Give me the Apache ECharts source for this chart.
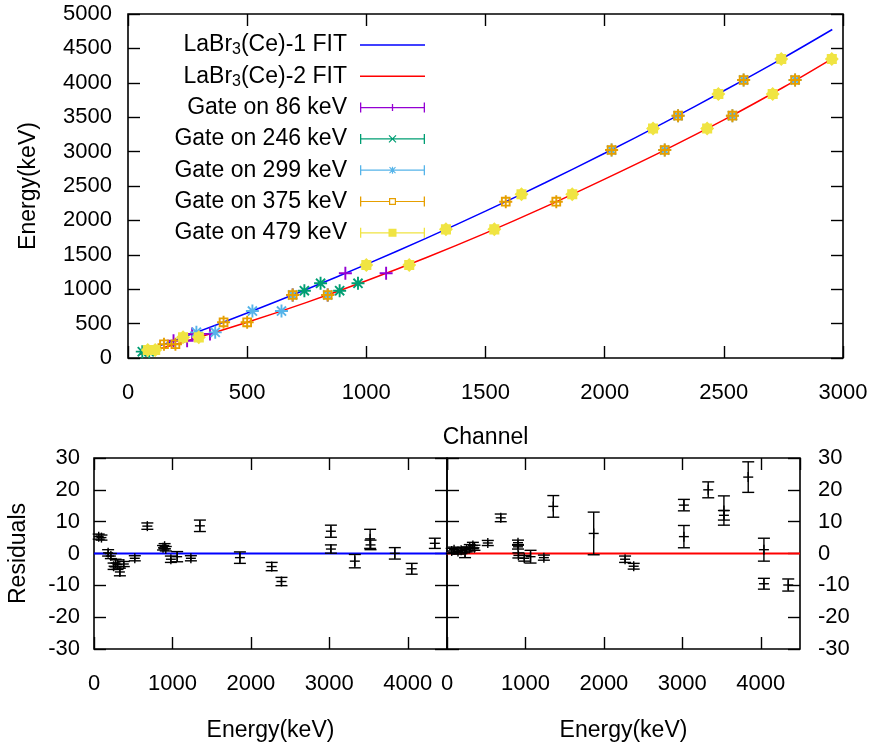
<!DOCTYPE html>
<html>
<head>
<meta charset="utf-8">
<script src="https://cdn.jsdelivr.net/npm/echarts@6/dist/echarts.min.js"></script>
<style>
  html, body { margin: 0; padding: 0; background: #fff; }
  #chart { width: 873px; height: 745px; }
</style>
</head>
<body>
<div id="chart"></div>
<script>
// Energy calibration of two LaBr3(Ce) detectors: channel -> energy, with fit residuals.

// ---- fit curves (channel, energy) ----
const fit1Ch = [50, 250, 500, 750, 1000, 1250, 1500, 1750, 2000, 2250, 2500, 2750, 2955];
const fit1E  = [75, 325, 654, 999, 1360, 1739, 2134, 2547, 2976, 3421, 3884, 4363, 4775];
const fit2Ch = [50, 250, 500, 750, 1000, 1250, 1500, 1750, 2000, 2250, 2500, 2750, 2955];
const fit2E  = [54, 252, 519, 809, 1122, 1457, 1815, 2196, 2600, 3018, 3460, 3935, 4352];

// ---- calibration points per gate (channel, energy) ----
const g86Ch  = [191, 248, 269, 344, 691, 838, 912, 1083];
const g86E   = [250, 250, 350, 350, 916, 916, 1231, 1231];
const g246Ch = [60, 89, 740, 888, 808, 965];
const g246E  = [92, 92, 978, 978, 1086, 1086];
const g299Ch = [287, 366, 522, 644, 691, 838, 2029, 2252, 2308, 2536, 2583, 2799];
const g299E  = [373, 373, 683, 683, 916, 916, 3023, 3023, 3522, 3522, 4041, 4041];
const g375Ch = [151, 199, 401, 500, 691, 838, 1585, 1797, 2029, 2252, 2308, 2536, 2583, 2799];
const g375E  = [200, 200, 519, 519, 916, 916, 2272, 2272, 3023, 3023, 3522, 3522, 4041, 4041];
const g479Ch = [83, 114, 231, 297, 1000, 1180, 1334, 1537, 1651, 1864, 2203, 2430, 2477, 2705, 2741, 2953];
const g479E  = [116, 116, 300, 300, 1352, 1352, 1870, 1870, 2379, 2379, 3335, 3335, 3837, 3837, 4346, 4346];

// ---- residuals, detector 1 (energy, residual, error) ----
const res1E   = [60, 95, 180, 215, 250, 275, 300, 330, 380, 520, 680, 880, 900, 915, 980, 1060, 1235, 1350, 1860, 2265, 2390, 3020, 3020, 3325, 3520, 3525, 3835, 4050, 4345];
const res1V   = [5.3, 5.0, 0.2, -0.8, -4.0, -3.0, -3.5, -5.8, -3.3, -1.5, 8.6, 1.8, 2.3, 1.5, -1.8, -1.0, -1.5, 8.7, -1.3, -4.1, -8.8, 7.0, 1.4, -2.4, 4.6, 2.7, 0.05, -4.8, 3.2];
const res1Err = [0.8, 0.8, 1.0, 0.8, 1.0, 1.2, 1.5, 1.2, 0.8, 0.8, 1.0, 0.7, 0.8, 0.7, 1.0, 1.6, 0.8, 1.8, 1.8, 1.3, 1.3, 1.9, 1.3, 2.1, 3.0, 1.5, 1.8, 1.7, 1.6];

// ---- residuals, detector 2 (energy, residual, error) ----
const res2E   = [60, 90, 140, 180, 230, 250, 290, 330, 350, 520, 685, 905, 905, 910, 985, 1065, 1235, 1355, 1870, 2270, 2380, 3020, 3020, 3330, 3530, 3530, 3840, 4040, 4040, 4350];
const res2V   = [0.8, 1.2, 0.6, 1.0, 0.2, 1.3, 1.8, 2.5, 1.8, 3.3, 11.2, 3.4, 2.1, -0.6, -1.5, -1.0, -1.3, 14.8, 6.3, -1.8, -4.0, 15.2, 5.3, 20.0, 13.5, 12.0, 24.0, 1.2, -9.5, -9.9];
const res2Err = [0.8, 0.8, 0.8, 0.8, 1.5, 0.8, 1.0, 1.0, 0.8, 0.8, 1.2, 0.8, 0.7, 0.8, 0.9, 2.0, 0.8, 3.4, 6.7, 1.0, 0.9, 1.8, 3.5, 2.5, 4.6, 1.5, 4.8, 3.6, 1.7, 1.9];

// zero reference lines for the residual panels
const zeroX = [0, 4500];
const zeroY = [0, 0];

// axis ticks
const chTicks  = { min: 0, max: 3000, interval: 500 };
const enTicks  = { min: 0, max: 5000, interval: 500 };
const resXTicks = { min: 0, max: 4500, interval: 1000 };
const resYTicks = { min: -30, max: 30, interval: 10 };

// series names
const names = ['LaBr3(Ce)-1 FIT', 'LaBr3(Ce)-2 FIT', 'Gate on 86 keV', 'Gate on 246 keV',
               'Gate on 299 keV', 'Gate on 375 keV', 'Gate on 479 keV'];

const FONT = 'Liberation Sans, Arial, Helvetica, sans-serif';
const FS = 23;      // legend and axis titles
const FS_TICK = 22; // tick labels
const C = {
  fit1: '#0000ff', fit2: '#ff0000',
  g86: '#9400d3', g246: '#009e73', g299: '#56b4e9', g375: '#e69f00', g479: '#f0e442'
};

const zip = (a, b) => a.map((v, i) => [v, b[i]]);
const zip3 = (a, b, c) => a.map((v, i) => [v, b[i], c[i]]);

// ---- marker shapes ----
const SYM_PLUS = 'path://M0,5L10,5M5,0L5,10';
const SYM_STAR = 'path://M0,5L10,5M5,0L5,10M1.5,1.5L8.5,8.5M8.5,1.5L1.5,8.5';
const SYM_BOX  = 'path://M2,2L8,2L8,8L2,8ZM5,0L5,10M0,5L10,5';
const SYM_BLOB = 'path://M1.4,1.4L8.6,1.4L8.6,8.6L1.4,8.6ZM5,0L10,5L5,10L0,5Z';

// ---- legend sample icons (filled outlines, 65 x 10) ----
function bar(x0, x1, y0, y1) { return `M${x0},${y0}L${x1},${y0}L${x1},${y1}L${x0},${y1}Z`; }
function seg(xa, ya, xb, yb, w) {
  const dx = xb - xa, dy = yb - ya, L = Math.hypot(dx, dy);
  const nx = -dy / L * w / 2, ny = dx / L * w / 2;
  return `M${xa - nx},${ya - ny}L${xb - nx},${yb - ny}L${xb + nx},${yb + ny}L${xa + nx},${ya + ny}Z`;
}
const caps = bar(0, 1.3, 0, 10) + bar(63.7, 65, 0, 10);
const fullLine = bar(0, 65, 4.4, 5.6);
const ICON = {
  g86: 'path://' + fullLine + caps + bar(31.85, 33.15, 1.5, 8.5),
  g246: 'path://' + fullLine + caps + seg(29, 1.5, 36, 8.5, 1.2) + seg(36, 1.5, 29, 8.5, 1.2),
  g299: 'path://' + fullLine + caps + bar(31.9, 33.1, 1.5, 8.5) + seg(29.5, 2, 35.5, 8, 1.1) + seg(35.5, 2, 29.5, 8, 1.1),
  g375: 'path://' + bar(0, 29, 4.4, 5.6) + bar(36, 65, 4.4, 5.6) + caps +
        'M29,1.5L36,1.5L36,8.5L29,8.5Z' + 'M30.2,2.7L30.2,7.3L34.8,7.3L34.8,2.7Z',
  g479: 'path://' + fullLine + caps + bar(28.5, 36.5, 1, 9)
};

const rowY = [45, 76.3, 107.6, 138.9, 170.2, 201.5, 232.8];
const legendKeys = ['fit1', 'fit2', 'g86', 'g246', 'g299', 'g375', 'g479'];
const legends = legendKeys.map((k, i) => {
  const isFit = i < 2;
  return {
    orient: 'vertical',
    right: 448,
    top: rowY[i] - 12,
    padding: 0,
    itemGap: 0,
    align: 'right',
    selectedMode: false,
    itemWidth: 65,
    itemHeight: isFit ? 1.5 : 10,
    data: [{ name: names[i], icon: isFit ? 'rect' : ICON[k] }],
    itemStyle: { color: C[k], borderWidth: 0 },
    formatter: n => n.replace('LaBr3', 'LaBr{s|3}') + '{g| }',
    textStyle: {
      fontFamily: FONT, fontSize: FS, color: '#000', lineHeight: 24,
      rich: {
        s: { fontFamily: FONT, fontSize: 16, color: '#000', padding: [10, 0, 0, 0] },
        g: { width: 8 }
      }
    }
  };
});

// ---- axes helpers ----
const tickStyle = { show: true, inside: true, length: 12, lineStyle: { color: '#000', width: 1.4 } };
function labelStyle(margin, extra) {
  return Object.assign({
    color: '#000', fontFamily: FONT, fontSize: FS_TICK, margin: margin,
    formatter: v => String(v)
  }, extra || {});
}
function mainAxis(extra) {
  return Object.assign({
    type: 'value',
    axisLine: { show: false, onZero: false },
    axisTick: tickStyle,
    splitLine: { show: false },
    nameTextStyle: { color: '#000', fontFamily: FONT, fontSize: FS }
  }, extra);
}
function mirrorAxis(extra) {
  return Object.assign({
    type: 'value',
    axisLine: { show: false, onZero: false },
    axisTick: tickStyle,
    splitLine: { show: false },
    axisLabel: { show: false }
  }, extra);
}

// ---- error bar glyph for residual points ----
function errRender(params, api) {
  const x = api.value(0), y = api.value(1), e = api.value(2);
  const p = api.coord([x, y]);
  const hi = api.coord([x, y + e]);
  const lo = api.coord([x, y - e]);
  const cap = 6, m = 5;
  const st = { stroke: '#000', lineWidth: 1.4 };
  return {
    type: 'group',
    children: [
      { type: 'line', shape: { x1: p[0], y1: hi[1], x2: p[0], y2: lo[1] }, style: st },
      { type: 'line', shape: { x1: p[0] - cap, y1: hi[1], x2: p[0] + cap, y2: hi[1] }, style: st },
      { type: 'line', shape: { x1: p[0] - cap, y1: lo[1], x2: p[0] + cap, y2: lo[1] }, style: st },
      { type: 'line', shape: { x1: p[0] - m, y1: p[1], x2: p[0] + m, y2: p[1] }, style: st },
      { type: 'line', shape: { x1: p[0], y1: p[1] - m, x2: p[0], y2: p[1] + m }, style: st }
    ]
  };
}

function scatter(name, ch, en, symbol, size, color, filled) {
  return {
    name, type: 'scatter', xAxisIndex: 0, yAxisIndex: 0,
    data: zip(ch, en), symbol, symbolSize: size,
    itemStyle: filled
      ? { color: color, borderWidth: 0, opacity: 1 }
      : { color: 'none', borderColor: color, borderWidth: 1.9, opacity: 1 },
    emphasis: { disabled: true },
    z: 3
  };
}

const gridStyle = { show: true, borderColor: '#000', borderWidth: 1.6, backgroundColor: 'transparent' };

const option = {
  animation: false,
  backgroundColor: '#fff',
  textStyle: { fontFamily: FONT },
  legend: legends,
  grid: [
    Object.assign({ left: 128, top: 14, width: 715, height: 344 }, gridStyle),
    Object.assign({ left: 94, top: 458, width: 353, height: 191 }, gridStyle),
    Object.assign({ left: 447, top: 458, width: 353, height: 191 }, gridStyle)
  ],
  xAxis: [
    mainAxis(Object.assign({ gridIndex: 0, position: 'bottom', name: 'Channel', nameLocation: 'middle', nameGap: 68,
      axisLabel: labelStyle(24) }, chTicks)),
    mirrorAxis(Object.assign({ gridIndex: 0, position: 'top' }, chTicks)),
    mainAxis(Object.assign({ gridIndex: 1, position: 'bottom', name: 'Energy(keV)', nameLocation: 'middle', nameGap: 70,
      axisLabel: labelStyle(24, { showMaxLabel: false }) }, resXTicks)),
    mirrorAxis(Object.assign({ gridIndex: 1, position: 'top' }, resXTicks)),
    mainAxis(Object.assign({ gridIndex: 2, position: 'bottom', name: 'Energy(keV)', nameLocation: 'middle', nameGap: 70,
      axisLabel: labelStyle(24, { showMaxLabel: false }) }, resXTicks)),
    mirrorAxis(Object.assign({ gridIndex: 2, position: 'top' }, resXTicks))
  ],
  yAxis: [
    mainAxis(Object.assign({ gridIndex: 0, position: 'left', name: 'Energy(keV)', nameLocation: 'middle', nameGap: 88,
      axisLabel: labelStyle(16) }, enTicks)),
    mirrorAxis(Object.assign({ gridIndex: 0, position: 'right' }, enTicks)),
    mainAxis(Object.assign({ gridIndex: 1, position: 'left', name: 'Residuals', nameLocation: 'middle', nameGap: 64,
      axisLabel: labelStyle(14) }, resYTicks)),
    mirrorAxis(Object.assign({ gridIndex: 1, position: 'right' }, resYTicks)),
    mirrorAxis(Object.assign({ gridIndex: 2, position: 'left' }, resYTicks)),
    mainAxis(Object.assign({ gridIndex: 2, position: 'right', axisLabel: labelStyle(18) }, resYTicks))
  ],
  series: [
    { name: names[0], type: 'line', xAxisIndex: 0, yAxisIndex: 0, data: zip(fit1Ch, fit1E),
      smooth: 0.3, showSymbol: false, lineStyle: { color: C.fit1, width: 1.5 }, itemStyle: { color: C.fit1 }, z: 2 },
    { name: names[1], type: 'line', xAxisIndex: 0, yAxisIndex: 0, data: zip(fit2Ch, fit2E),
      smooth: 0.3, showSymbol: false, lineStyle: { color: C.fit2, width: 1.5 }, itemStyle: { color: C.fit2 }, z: 2 },
    scatter(names[2], g86Ch, g86E, SYM_PLUS, 13, C.g86, false),
    scatter(names[3], g246Ch, g246E, SYM_STAR, 13, C.g246, false),
    scatter(names[4], g299Ch, g299E, SYM_STAR, 13, C.g299, false),
    scatter(names[5], g375Ch, g375E, SYM_BOX, 13, C.g375, false),
    scatter(names[6], g479Ch, g479E, SYM_BLOB, 14, C.g479, true),
    { type: 'line', xAxisIndex: 2, yAxisIndex: 2, data: zip(zeroX, zeroY), showSymbol: false,
      lineStyle: { color: C.fit1, width: 2 }, z: 2 },
    { type: 'custom', xAxisIndex: 2, yAxisIndex: 2, data: zip3(res1E, res1V, res1Err),
      renderItem: errRender, encode: { x: 0, y: 1 }, z: 3 },
    { type: 'line', xAxisIndex: 4, yAxisIndex: 4, data: zip(zeroX, zeroY), showSymbol: false,
      lineStyle: { color: C.fit2, width: 2 }, z: 2 },
    { type: 'custom', xAxisIndex: 4, yAxisIndex: 4, data: zip3(res2E, res2V, res2Err),
      renderItem: errRender, encode: { x: 0, y: 1 }, z: 3 }
  ]
};

const chart = echarts.init(document.getElementById('chart'), null, { renderer: 'canvas' });
chart.setOption(option);
</script>
</body>
</html>
